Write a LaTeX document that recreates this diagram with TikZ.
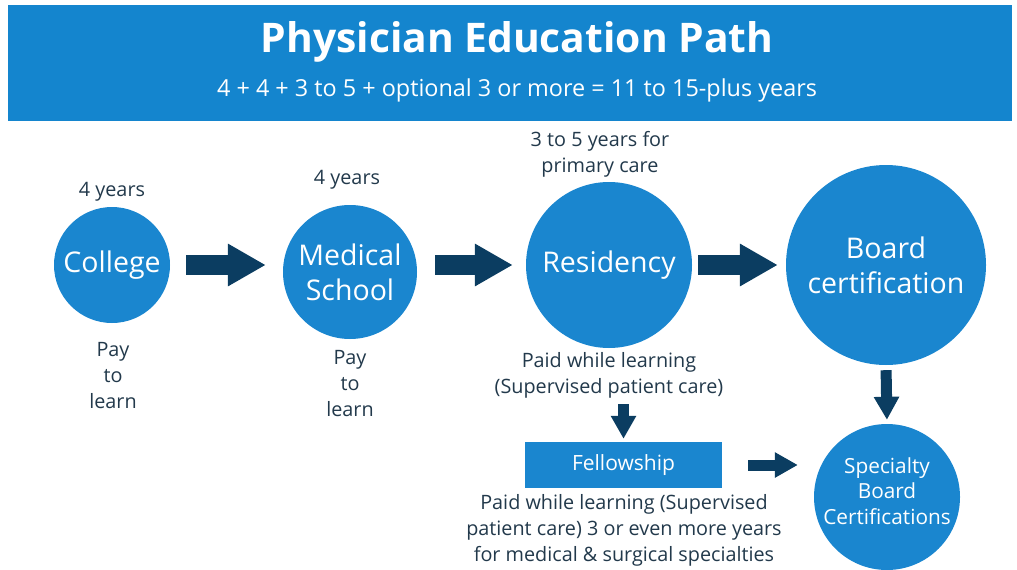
\documentclass[tikz,border=0pt]{standalone}
\usepackage{fontspec}
\setmainfont{Open Sans}[Ligatures=NoCommon]
\usetikzlibrary{arrows.meta}
\definecolor{headblue}{HTML}{1485CE}
\definecolor{ballblue}{HTML}{1A86CF}
\definecolor{navy}{HTML}{0B3D61}
\definecolor{ink}{HTML}{22394B}
\begin{document}
\begin{tikzpicture}[x=1pt,y=-1pt,line join=round,
		bubble/.style={circle,fill=ballblue,text=white,inner sep=0pt,align=center,font=\fontsize{28.5}{35}\selectfont},
		note/.style={text=ink,align=center,inner sep=0pt,font=\fontsize{19.8}{26}\selectfont},
		fat/.style={draw=navy,line width=20pt,-{Triangle[length=38pt,width=40pt]}},
		slim/.style={draw=navy,line width=11pt,-{Triangle[length=23pt,width=24pt]}}]
	\useasboundingbox (0,0) rectangle (1017,570);
	% header
	\fill[headblue] (8,5) rectangle (1012,121);
	\node[text=white,font=\fontsize{40.8}{42}\selectfont\bfseries] (title) at (517,42) {Physician Education Path};
	\node[text=white,font=\fontsize{23.4}{25}\selectfont] (sub) at (517,90) {4 + 4 + 3 to 5 + optional 3 or more = 11 to 15-plus years};
	% stages
	\node[bubble,minimum size=116pt] (college) at (112,265) {College};
	\node[bubble,minimum size=134pt] (med) at (350,272) {Medical\\School};
	\node[bubble,minimum size=166pt] (res) at (609,265) {Residency};
	\node[bubble,minimum size=200pt] (board) at (886,265) {Board\\certification};
	\node[bubble,minimum size=146pt] (spec) at (887,497) {};
	\node[text=white,align=center,inner sep=0pt,font=\fontsize{20.8}{25.5}\selectfont] (spectext) at (spec.center) [yshift=6pt] {Specialty\\Board\\Certifications};
	\node[fill=ballblue,text=white,minimum width=197pt,minimum height=46pt,inner sep=0pt,font=\fontsize{21}{22}\selectfont] (fellow) at (623.5,465) {Fellowship};
	% notes
	\node[note] (yrcol) at (112,192) {4 years};
	\node[note] (paycol) at (113,376) {Pay\\to\\learn};
	\node[note] (yrmed) at (347,180) {4 years};
	\node[note] (paymed) at (350,384) {Pay\\to\\learn};
	\node[note] (yrres) at (600,154) {3 to 5 years for\\primary care};
	\node[note] (paidres) at (609,375) {Paid while learning\\(Supervised patient care)};
	\node[note] (paidfel) at (624,530) {Paid while learning (Supervised\\patient care) 3 or even more years\\for medical \& surgical specialties};
	% arrows
	\draw[fat,shorten <=16pt,shorten >=17pt] (college.east) -- (college.east -| med.west);
	\draw[fat,shorten <=18pt,shorten >=13pt] (res.west -| med.east) -- (res.west);
	\draw[fat,shorten <=6pt,shorten >=8pt] (res.east) -- (res.east -| board.west);
	\draw[slim,shorten <=5pt,shorten >=4pt] (board.south) -- (spec.north);
	\draw[slim,shorten <=6pt,shorten >=3pt] (fellow.north |- paidres.south) -- (fellow.north);
	\draw[slim,shorten <=26pt,shorten >=16pt] (fellow.east) -- (fellow.east -| spec.west);
\end{tikzpicture}
\end{document}
